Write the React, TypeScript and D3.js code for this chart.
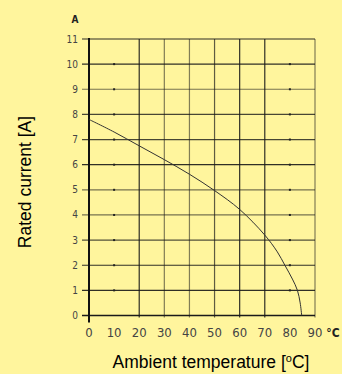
import React from "react";
import * as d3 from "d3";

const xTicks = [0, 10, 20, 30, 40, 50, 60, 70, 80, 90];
const yTicks = [0, 1, 2, 3, 4, 5, 6, 7, 8, 9, 10, 11];
const xGridValues = [20, 30, 40, 50, 60, 70, 90];
const xGridOpacity = [0.9, 0.55, 0.55, 0.7, 0.9, 0.9, 0.55];
const yGridOpacity = [1, 0.9, 0.9, 0.75, 0.6, 0.6, 0.9, 0.8, 0.8, 0.6, 0.9, 0.9];
const dotXValues = [10, 80];
const temps = [0, 10, 20, 30, 40, 50, 60, 70, 75, 78, 81, 83, 84.1, 84.7];
const current = [7.8, 7.3, 6.75, 6.2, 5.62, 4.97, 4.22, 3.2, 2.53, 2.0, 1.45, 1.0, 0.5, 0];

export default function App() {
  const W = 342, H = 374;
  const x = d3.scaleLinear().domain([0, 90]).range([89, 315]);
  const y = d3.scaleLinear().domain([0, 11]).range([315.5, 39]);
  const pts = temps.map((t, i) => [t, current[i]] as [number, number]);
  const line = d3.line<[number, number]>().x(d => x(d[0])).y(d => y(d[1])).curve(d3.curveCatmullRom.alpha(0.5));
  const tickFont = "'Liberation Sans Narrow', 'DejaVu Sans Condensed', sans-serif";
  return (
    <svg width={W} height={H} style={{ position: "fixed", left: 0, top: 0, display: "block" }}>
      <rect x={0} y={0} width={W} height={H} fill="#fff59d" />
      {yTicks.map((v, i) => (
        <line key={"h" + v} x1={82} x2={x(90)} y1={y(v)} y2={y(v)} stroke="#1a1a1a" strokeOpacity={yGridOpacity[i]} strokeWidth={v === 0 ? 1.5 : 1.2} />
      ))}
      {xGridValues.map((v, i) => (
        <line key={"v" + v} x1={x(v)} x2={x(v)} y1={y(11)} y2={y(0) + 2} stroke="#1a1a1a" strokeOpacity={xGridOpacity[i]} strokeWidth={1.2} />
      ))}
      {dotXValues.map(dv => yTicks.filter(v => v > 0 && v < 11).map(v => (
        <rect key={"d" + dv + "-" + v} x={x(dv) - 1} y={y(v) - 1} width={2} height={2} fill="#222" />
      )))}
      <line x1={x(0)} x2={x(0)} y1={y(11) - 1} y2={y(0) + 7} stroke="#111" strokeWidth={2} />
      <path d={line(pts) || ""} fill="none" stroke="#333" strokeWidth={1} />
      {yTicks.map(v => (
        <text key={"yl" + v} x={78} y={y(v) + 3.5} textAnchor="end" fontFamily={tickFont} fontSize={10} fill="#444">{v}</text>
      ))}
      {xTicks.map(v => (
        <text key={"xl" + v} x={x(v)} y={337} textAnchor="middle" fontFamily={tickFont} fontSize={13} fill="#444">{v}</text>
      ))}
      <text x={75} y={23} textAnchor="middle" fontFamily={tickFont} fontSize={10} fontWeight="bold" fill="#222">A</text>
      <text x={333} y={337} textAnchor="middle" fontFamily={tickFont} fontSize={12} fontWeight="bold" fill="#222">°C</text>
      <text x={211} y={368} textAnchor="middle" fontFamily="'Liberation Sans', Arial, sans-serif" fontSize={17.5} fill="#000">
        Ambient temperature [<tspan dy={-6} fontSize={11}>o</tspan><tspan dy={6}>C]</tspan>
      </text>
      <text transform={`translate(31,182) rotate(-90)`} textAnchor="middle" fontFamily="'Liberation Sans', Arial, sans-serif" fontSize={17.5} fill="#000">
        Rated current [A]
      </text>
    </svg>
  );
}
